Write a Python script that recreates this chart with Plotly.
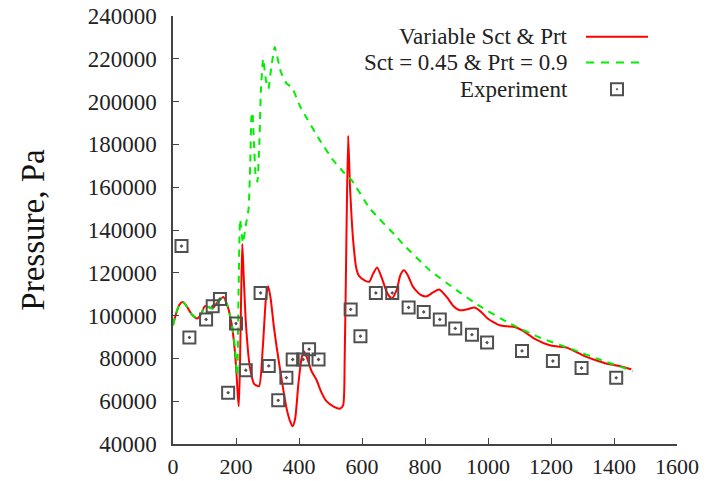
import plotly.graph_objects as go

# ---- data ----
var_x = [0, 10, 20, 31, 45, 60, 77, 90, 101, 113, 126, 140, 160, 172, 186, 196, 202, 206, 209,
         213, 217, 220, 224, 232, 244, 258, 273, 285, 295, 302, 310, 320, 329, 345, 360, 372,
         380, 388, 398, 408, 415, 425, 440, 456, 470, 487, 510, 530, 540, 545, 550, 556, 562,
         572, 582, 591, 608, 623, 635, 648, 662, 680, 695, 710, 722, 733, 745, 762, 785, 805,
         825, 845, 870, 890, 910, 935, 958, 980, 1000, 1037, 1060, 1085, 1110, 1150, 1196,
         1220, 1249, 1280, 1312, 1345, 1375, 1420, 1455]
var_y = [95500, 101000, 105000, 106300, 104000, 100500, 98600, 101000, 104400, 104000, 103300,
         106000, 108700, 105000, 96300, 84000, 72000, 62000, 57600, 80000, 115000, 133500,
         120000, 95000, 76000, 68000, 67000, 85000, 108000, 113700, 108000, 95000, 85400,
         70000, 57000, 50500, 48300, 52000, 68000, 80000, 83500, 80500, 74000, 69800, 64500,
         60000, 57500, 56500, 58000, 80000, 130000, 184000, 160000, 135000, 122000, 118400,
         116500, 115800, 119500, 122500, 118000, 110500, 108000, 112000, 119000, 121200,
         119000, 113400, 109800, 109000, 110800, 112200, 108500, 104500, 102500, 103000,
         103800, 101500, 98500, 95500, 95000, 94700, 93000, 89000, 86150, 85600, 85100,
         83000, 80700, 79000, 77600, 76300, 74900]

const_x = [0, 10, 20, 31, 45, 60, 77, 90, 101, 113, 126, 140, 160, 172, 186, 196, 204, 208,
           213, 222, 232, 240, 245, 249, 252, 257, 262, 268, 274, 279, 286, 295, 303, 312,
           323, 342, 360, 378, 406, 466, 508, 545, 567, 625, 710, 730, 815, 900, 974, 1069,
           1164, 1270, 1354, 1460]
const_y = [95500, 101000, 105000, 106300, 104000, 100500, 98600, 101000, 104400, 104000,
           103300, 106000, 108700, 105000, 97000, 86000, 72000, 110000, 145000, 134000,
           143000, 150000, 170000, 193000, 195000, 181000, 166000, 162500, 180000, 205000,
           220000, 210000, 206000, 216000, 225500, 214000, 208500, 206500, 197000, 182000,
           172700, 166400, 163300, 150000, 136800, 133400, 121200, 111900, 104400, 96300,
           89750, 84100, 79470, 74130]

exp_x = [27, 52, 105, 126, 149, 175, 200, 231, 278, 304, 334, 360, 380, 413, 432, 462,
         564, 595, 644, 696, 748, 796, 847, 896, 949, 997, 1108, 1206, 1297, 1407]
exp_y = [132500, 89800, 98200, 104400, 107800, 64000, 96300, 74500, 110600, 76500, 60400,
         71000, 79500, 79500, 84300, 79500, 102900, 90400, 110600, 110600, 103800, 101700,
         98200, 94000, 91100, 87400, 83500, 78800, 75500, 70900]

legend_names = ["Variable Sct & Prt", "Sct = 0.45 & Prt = 0.9", "Experiment"]
x_ticks = list(range(0, 1601, 200))
y_ticks = list(range(40000, 240001, 20000))

RED = "#ff0000"
GREEN = "#00ee00"
GRAY = "#505050"
FONT = "Liberation Serif"

fig = go.Figure()
fig.add_trace(go.Scatter(x=var_x, y=var_y, mode="lines", name=legend_names[0],
                         line=dict(color=RED, width=2, shape="spline", smoothing=0.6)))
fig.add_trace(go.Scatter(x=const_x, y=const_y, mode="lines", name=legend_names[1],
                         line=dict(color=GREEN, width=2, dash="7px,6px",
                                   shape="spline", smoothing=0.4)))
fig.add_trace(go.Scatter(x=exp_x, y=exp_y, mode="markers", name=legend_names[2],
                         marker=dict(symbol="square-open-dot", size=12, color=GRAY,
                                     line=dict(width=2, color=GRAY))))

# custom legend: right-aligned text, sample on the right (paper coords)
L, R, T, B = 173, 677, 16, 444
def px(xp):
    return (xp - L) / (R - L)
def py(yp):
    return 1 - (yp - T) / (B - T)

rows_y = [36.7, 62.5, 89.3]
for name, yy in zip(legend_names, rows_y):
    fig.add_annotation(x=px(570), y=py(yy), xref="paper", yref="paper", text=name,
                       showarrow=False, xanchor="right", yanchor="middle",
                       font=dict(family=FONT, size=23, color="#222"))
fig.add_shape(type="line", xref="paper", yref="paper", x0=px(586), x1=px(648),
              y0=py(rows_y[0]), y1=py(rows_y[0]), line=dict(color=RED, width=2))
fig.add_shape(type="line", xref="paper", yref="paper", x0=px(586), x1=px(643),
              y0=py(rows_y[1]), y1=py(rows_y[1]),
              line=dict(color=GREEN, width=2, dash="8px,7px"))
fig.add_shape(type="rect", xref="paper", yref="paper", xsizemode="pixel", ysizemode="pixel",
              xanchor=px(617), yanchor=py(rows_y[2]), x0=-6, x1=6, y0=-6, y1=6,
              line=dict(color=GRAY, width=2))
fig.add_shape(type="rect", xref="paper", yref="paper", xsizemode="pixel", ysizemode="pixel",
              xanchor=px(617), yanchor=py(rows_y[2]), x0=-0.7, x1=0.7, y0=-0.7, y1=0.7,
              line=dict(color=GRAY, width=0.5), fillcolor=GRAY)

axis_common = dict(showline=True, linecolor="#444", linewidth=1.5, ticks="inside",
                   ticklen=6, tickcolor="#444", tickwidth=1.2, showgrid=False,
                   zeroline=False, mirror=False, automargin=False)
fig.update_layout(
    width=711, height=481,
    margin=dict(l=L, r=711 - R, t=T, b=481 - B),
    paper_bgcolor="white", plot_bgcolor="white",
    showlegend=False,
    xaxis=dict(range=[0, 1600], tickvals=x_ticks, ticktext=[str(v) for v in x_ticks],
               ticklabelstandoff=2, tickfont=dict(family=FONT, size=22, color="#222"),
               **axis_common),
    yaxis=dict(range=[40000, 240000], tickvals=y_ticks, ticktext=[str(v) for v in y_ticks],
               ticklabelstandoff=10, tickfont=dict(family=FONT, size=23, color="#222"),
               title=dict(text="Pressure, Pa", font=dict(family=FONT, size=33, color="#111"),
                          standoff=33),
               **axis_common),
)
fig.write_html("out.html")
